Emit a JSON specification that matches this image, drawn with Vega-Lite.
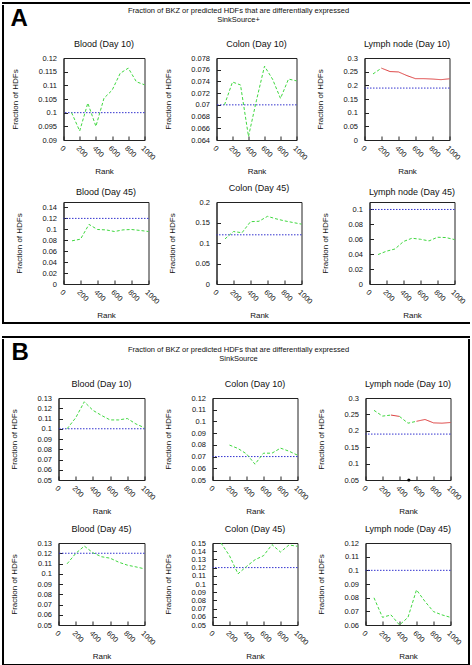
{
  "$schema": "https://vega.github.io/schema/vega-lite/v6.json",
  "background": "white",
  "padding": {"left": 2, "top": 2, "right": 0, "bottom": 0},
  "datasets": {
    "lines": [
      {"c":"A1","r":100,"v":0.1,"s":"n","g":1},{"c":"A1","r":200,"v":0.0933,"s":"n","g":1},{"c":"A1","r":300,"v":0.1035,"s":"n","g":1},{"c":"A1","r":400,"v":0.095,"s":"n","g":1},{"c":"A1","r":500,"v":0.1053,"s":"n","g":1},{"c":"A1","r":600,"v":0.1082,"s":"n","g":1},{"c":"A1","r":700,"v":0.1144,"s":"n","g":1},{"c":"A1","r":800,"v":0.1163,"s":"n","g":1},{"c":"A1","r":900,"v":0.1113,"s":"n","g":1},{"c":"A1","r":1000,"v":0.1102,"s":"n","g":1},
      {"c":"A2","r":100,"v":0.07,"s":"n","g":1},{"c":"A2","r":200,"v":0.0739,"s":"n","g":1},{"c":"A2","r":300,"v":0.0734,"s":"n","g":1},{"c":"A2","r":400,"v":0.0646,"s":"n","g":1},{"c":"A2","r":500,"v":0.0708,"s":"n","g":1},{"c":"A2","r":600,"v":0.0766,"s":"n","g":1},{"c":"A2","r":700,"v":0.0744,"s":"n","g":1},{"c":"A2","r":800,"v":0.0711,"s":"n","g":1},{"c":"A2","r":900,"v":0.0744,"s":"n","g":1},{"c":"A2","r":1000,"v":0.0741,"s":"n","g":1},
      {"c":"A3","r":100,"v":0.2417,"s":"n","g":1},{"c":"A3","r":200,"v":0.2628,"s":"n","g":1},{"c":"A3","r":200,"v":0.2628,"s":"y","g":2},{"c":"A3","r":300,"v":0.2504,"s":"y","g":2},{"c":"A3","r":400,"v":0.249,"s":"y","g":2},{"c":"A3","r":500,"v":0.2355,"s":"y","g":2},{"c":"A3","r":600,"v":0.2244,"s":"y","g":2},{"c":"A3","r":700,"v":0.2244,"s":"y","g":2},{"c":"A3","r":800,"v":0.223,"s":"y","g":2},{"c":"A3","r":900,"v":0.2207,"s":"y","g":2},{"c":"A3","r":1000,"v":0.224,"s":"y","g":2},
      {"c":"A4","r":100,"v":0.079,"s":"n","g":1},{"c":"A4","r":200,"v":0.082,"s":"n","g":1},{"c":"A4","r":300,"v":0.109,"s":"n","g":1},{"c":"A4","r":400,"v":0.0997,"s":"n","g":1},{"c":"A4","r":500,"v":0.099,"s":"n","g":1},{"c":"A4","r":600,"v":0.096,"s":"n","g":1},{"c":"A4","r":700,"v":0.099,"s":"n","g":1},{"c":"A4","r":800,"v":0.0997,"s":"n","g":1},{"c":"A4","r":900,"v":0.098,"s":"n","g":1},{"c":"A4","r":1000,"v":0.096,"s":"n","g":1},
      {"c":"A5","r":100,"v":0.11,"s":"n","g":1},{"c":"A5","r":200,"v":0.128,"s":"n","g":1},{"c":"A5","r":300,"v":0.125,"s":"n","g":1},{"c":"A5","r":400,"v":0.152,"s":"n","g":1},{"c":"A5","r":500,"v":0.153,"s":"n","g":1},{"c":"A5","r":600,"v":0.165,"s":"n","g":1},{"c":"A5","r":700,"v":0.159,"s":"n","g":1},{"c":"A5","r":800,"v":0.154,"s":"n","g":1},{"c":"A5","r":900,"v":0.15,"s":"n","g":1},{"c":"A5","r":1000,"v":0.146,"s":"n","g":1},
      {"c":"A6","r":100,"v":0.0395,"s":"n","g":1},{"c":"A6","r":200,"v":0.044,"s":"n","g":1},{"c":"A6","r":300,"v":0.047,"s":"n","g":1},{"c":"A6","r":400,"v":0.057,"s":"n","g":1},{"c":"A6","r":500,"v":0.0614,"s":"n","g":1},{"c":"A6","r":600,"v":0.06,"s":"n","g":1},{"c":"A6","r":700,"v":0.0578,"s":"n","g":1},{"c":"A6","r":800,"v":0.0627,"s":"n","g":1},{"c":"A6","r":900,"v":0.0623,"s":"n","g":1},{"c":"A6","r":1000,"v":0.0596,"s":"n","g":1},
      {"c":"B1","r":100,"v":0.1,"s":"n","g":1},{"c":"B1","r":200,"v":0.1107,"s":"n","g":1},{"c":"B1","r":300,"v":0.1263,"s":"n","g":1},{"c":"B1","r":400,"v":0.118,"s":"n","g":1},{"c":"B1","r":500,"v":0.113,"s":"n","g":1},{"c":"B1","r":600,"v":0.1086,"s":"n","g":1},{"c":"B1","r":700,"v":0.1086,"s":"n","g":1},{"c":"B1","r":800,"v":0.11,"s":"n","g":1},{"c":"B1","r":900,"v":0.1047,"s":"n","g":1},{"c":"B1","r":1000,"v":0.101,"s":"n","g":1},
      {"c":"B2","r":200,"v":0.0798,"s":"n","g":1},{"c":"B2","r":300,"v":0.0769,"s":"n","g":1},{"c":"B2","r":400,"v":0.0723,"s":"n","g":1},{"c":"B2","r":500,"v":0.0635,"s":"n","g":1},{"c":"B2","r":600,"v":0.0729,"s":"n","g":1},{"c":"B2","r":700,"v":0.0729,"s":"n","g":1},{"c":"B2","r":800,"v":0.0772,"s":"n","g":1},{"c":"B2","r":900,"v":0.0746,"s":"n","g":1},{"c":"B2","r":1000,"v":0.0712,"s":"n","g":1},
      {"c":"B3","r":100,"v":0.2624,"s":"n","g":1},{"c":"B3","r":200,"v":0.2448,"s":"n","g":1},{"c":"B3","r":300,"v":0.248,"s":"n","g":1},{"c":"B3","r":300,"v":0.248,"s":"y","g":2},{"c":"B3","r":400,"v":0.2438,"s":"y","g":2},{"c":"B3","r":400,"v":0.2438,"s":"n","g":3},{"c":"B3","r":500,"v":0.2232,"s":"n","g":3},{"c":"B3","r":600,"v":0.229,"s":"n","g":3},{"c":"B3","r":600,"v":0.229,"s":"y","g":4},{"c":"B3","r":700,"v":0.2345,"s":"y","g":4},{"c":"B3","r":800,"v":0.2242,"s":"y","g":4},{"c":"B3","r":900,"v":0.2232,"s":"y","g":4},{"c":"B3","r":1000,"v":0.2253,"s":"y","g":4},
      {"c":"B4","r":100,"v":0.1097,"s":"n","g":1},{"c":"B4","r":200,"v":0.1198,"s":"n","g":1},{"c":"B4","r":300,"v":0.127,"s":"n","g":1},{"c":"B4","r":400,"v":0.1205,"s":"n","g":1},{"c":"B4","r":500,"v":0.1166,"s":"n","g":1},{"c":"B4","r":600,"v":0.1152,"s":"n","g":1},{"c":"B4","r":700,"v":0.1113,"s":"n","g":1},{"c":"B4","r":800,"v":0.1084,"s":"n","g":1},{"c":"B4","r":900,"v":0.1067,"s":"n","g":1},{"c":"B4","r":1000,"v":0.1048,"s":"n","g":1},
      {"c":"B5","r":100,"v":0.15,"s":"n","g":1},{"c":"B5","r":200,"v":0.1345,"s":"n","g":1},{"c":"B5","r":300,"v":0.1124,"s":"n","g":1},{"c":"B5","r":400,"v":0.1214,"s":"n","g":1},{"c":"B5","r":500,"v":0.1296,"s":"n","g":1},{"c":"B5","r":600,"v":0.1345,"s":"n","g":1},{"c":"B5","r":700,"v":0.148,"s":"n","g":1},{"c":"B5","r":800,"v":0.139,"s":"n","g":1},{"c":"B5","r":900,"v":0.1476,"s":"n","g":1},{"c":"B5","r":1000,"v":0.146,"s":"n","g":1},
      {"c":"B6","r":100,"v":0.0799,"s":"n","g":1},{"c":"B6","r":200,"v":0.0656,"s":"n","g":1},{"c":"B6","r":300,"v":0.0674,"s":"n","g":1},{"c":"B6","r":400,"v":0.06,"s":"n","g":1},{"c":"B6","r":500,"v":0.0656,"s":"n","g":1},{"c":"B6","r":600,"v":0.0857,"s":"n","g":1},{"c":"B6","r":700,"v":0.0772,"s":"n","g":1},{"c":"B6","r":800,"v":0.0698,"s":"n","g":1},{"c":"B6","r":900,"v":0.0674,"s":"n","g":1},{"c":"B6","r":1000,"v":0.0656,"s":"n","g":1}
    ],
    "base": [
      {"c":"A1","v":0.1},{"c":"A2","v":0.07},{"c":"A3","v":0.19},{"c":"A4","v":0.12},{"c":"A5","v":0.12},{"c":"A6","v":0.1},
      {"c":"B1","v":0.1},{"c":"B2","v":0.07},{"c":"B3","v":0.19},{"c":"B4","v":0.12},{"c":"B5","v":0.12},{"c":"B6","v":0.1}
    ],
    "dots": [{"c":"B3","r":510,"v":0.05}]
  },
  "vconcat": [
    {
      "spacing": 0,
      "vconcat": [
        {"width": 466, "height": 0.01, "data": {"values": []}, "mark": "point", "view": {"stroke": "#000", "strokeWidth": 2}},
        {
          "spacing": 4.5,
          "hconcat": [
            {"width": 0.01, "height": 315, "data": {"values": []}, "mark": "point", "view": {"stroke": "#000", "strokeWidth": 2}},
            {
              "spacing": 7,
              "vconcat": [
                {"spacing": 62, "hconcat": [
                  {"width": 0.01, "height": 0.01, "data": {"values": []}, "mark": "point", "view": {"stroke": "transparent"},
                   "title": {"text": "A", "orient": "bottom", "baseline": "top", "anchor": "start", "fontSize": 24, "fontWeight": "bold", "offset": 1, "dx": -53, "color": "#000"}},
                  {"width": 0.01, "height": 0.01, "data": {"values": []}, "mark": "point", "view": {"stroke": "transparent"},
                   "title": {"text": ["Fraction of BKZ or predicted HDFs that are differentially expressed", "SinkSource+"], "orient": "bottom", "baseline": "top", "anchor": "middle", "fontSize": 7.5, "lineHeight": 9, "offset": 1}}
                ]},
                {"spacing": 7, "vconcat": [
                {"spacing": 6,
                 "hconcat": [
                  {"title": "Blood (Day 10)", "width": 81, "height": 82,
                   "encoding": {"y": {"field": "v", "type": "quantitative", "scale": {"domain": [0.09, 0.12], "nice": false, "zero": false}, "axis": {"values": [0.09, 0.095, 0.1, 0.105, 0.11, 0.115, 0.12], "format": "~g", "title": "Fraction of HDFs"}}},
                   "layer": [
                     {"data": {"name": "base"}, "transform": [{"filter": "datum.c === 'A1'"}], "mark": {"type": "rule", "color": "#3434cf", "strokeDash": [1.5, 1.5]}, "encoding": {}},
                     {"data": {"name": "lines"}, "transform": [{"filter": "datum.c === 'A1'"}], "mark": {"type": "line", "strokeWidth": 1},
                      "encoding": {"x": {"field": "r", "type": "quantitative", "scale": {"domain": [0, 1000], "nice": false}, "axis": {"values": [0, 200, 400, 600, 800, 1000], "format": "d", "title": "Rank"}},
                       "color": {"field": "s", "type": "nominal", "scale": {"domain": ["n", "y"], "range": ["#40d840", "#dd3b3b"]}, "legend": null},
                       "strokeDash": {"field": "s", "type": "nominal", "scale": {"domain": ["n", "y"], "range": [[3, 2], [1, 0]]}, "legend": null},
                       "detail": {"field": "g", "type": "nominal"}}}
                   ]},
                  {"title": "Colon (Day 10)", "width": 80, "height": 82,
                   "encoding": {"y": {"field": "v", "type": "quantitative", "scale": {"domain": [0.064, 0.078], "nice": false, "zero": false}, "axis": {"values": [0.064, 0.066, 0.068, 0.07, 0.072, 0.074, 0.076, 0.078], "format": "~g", "title": "Fraction of HDFs"}}},
                   "layer": [
                     {"data": {"name": "base"}, "transform": [{"filter": "datum.c === 'A2'"}], "mark": {"type": "rule", "color": "#3434cf", "strokeDash": [1.5, 1.5]}, "encoding": {}},
                     {"data": {"name": "lines"}, "transform": [{"filter": "datum.c === 'A2'"}], "mark": {"type": "line", "strokeWidth": 1},
                      "encoding": {"x": {"field": "r", "type": "quantitative", "scale": {"domain": [0, 1000], "nice": false}, "axis": {"values": [0, 200, 400, 600, 800, 1000], "format": "d", "title": "Rank"}},
                       "color": {"field": "s", "type": "nominal", "scale": {"domain": ["n", "y"], "range": ["#40d840", "#dd3b3b"]}, "legend": null},
                       "strokeDash": {"field": "s", "type": "nominal", "scale": {"domain": ["n", "y"], "range": [[3, 2], [1, 0]]}, "legend": null},
                       "detail": {"field": "g", "type": "nominal"}}}
                   ]},
                  {"title": "Lymph node (Day 10)", "width": 85, "height": 82,
                   "encoding": {"y": {"field": "v", "type": "quantitative", "scale": {"domain": [0, 0.3], "nice": false, "zero": false}, "axis": {"values": [0, 0.05, 0.1, 0.15, 0.2, 0.25, 0.3], "format": "~g", "title": "Fraction of HDFs"}}},
                   "layer": [
                     {"data": {"name": "base"}, "transform": [{"filter": "datum.c === 'A3'"}], "mark": {"type": "rule", "color": "#3434cf", "strokeDash": [1.5, 1.5]}, "encoding": {}},
                     {"data": {"name": "lines"}, "transform": [{"filter": "datum.c === 'A3'"}], "mark": {"type": "line", "strokeWidth": 1},
                      "encoding": {"x": {"field": "r", "type": "quantitative", "scale": {"domain": [0, 1000], "nice": false}, "axis": {"values": [0, 200, 400, 600, 800, 1000], "format": "d", "title": "Rank"}},
                       "color": {"field": "s", "type": "nominal", "scale": {"domain": ["n", "y"], "range": ["#40d840", "#dd3b3b"]}, "legend": null},
                       "strokeDash": {"field": "s", "type": "nominal", "scale": {"domain": ["n", "y"], "range": [[3, 2], [1, 0]]}, "legend": null},
                       "detail": {"field": "g", "type": "nominal"}}}
                   ]}
                ]},
                {"spacing": 6, "hconcat": [
                  {"title": "Blood (Day 45)", "width": 85, "height": 82,
                   "encoding": {"y": {"field": "v", "type": "quantitative", "scale": {"domain": [0, 0.15], "nice": false, "zero": false}, "axis": {"values": [0, 0.02, 0.04, 0.06, 0.08, 0.1, 0.12, 0.14], "format": "~g", "title": "Fraction of HDFs"}}},
                   "layer": [
                     {"data": {"name": "base"}, "transform": [{"filter": "datum.c === 'A4'"}], "mark": {"type": "rule", "color": "#3434cf", "strokeDash": [1.5, 1.5]}, "encoding": {}},
                     {"data": {"name": "lines"}, "transform": [{"filter": "datum.c === 'A4'"}], "mark": {"type": "line", "strokeWidth": 1},
                      "encoding": {"x": {"field": "r", "type": "quantitative", "scale": {"domain": [0, 1000], "nice": false}, "axis": {"values": [0, 200, 400, 600, 800, 1000], "format": "d", "title": "Rank"}},
                       "color": {"field": "s", "type": "nominal", "scale": {"domain": ["n", "y"], "range": ["#40d840", "#dd3b3b"]}, "legend": null},
                       "strokeDash": {"field": "s", "type": "nominal", "scale": {"domain": ["n", "y"], "range": [[3, 2], [1, 0]]}, "legend": null},
                       "detail": {"field": "g", "type": "nominal"}}}
                   ]},
                  {"title": "Colon (Day 45)", "width": 85, "height": 82,
                   "encoding": {"y": {"field": "v", "type": "quantitative", "scale": {"domain": [0, 0.2], "nice": false, "zero": false}, "axis": {"values": [0, 0.05, 0.1, 0.15, 0.2], "format": "~g", "title": "Fraction of HDFs"}}},
                   "layer": [
                     {"data": {"name": "base"}, "transform": [{"filter": "datum.c === 'A5'"}], "mark": {"type": "rule", "color": "#3434cf", "strokeDash": [1.5, 1.5]}, "encoding": {}},
                     {"data": {"name": "lines"}, "transform": [{"filter": "datum.c === 'A5'"}], "mark": {"type": "line", "strokeWidth": 1},
                      "encoding": {"x": {"field": "r", "type": "quantitative", "scale": {"domain": [0, 1000], "nice": false}, "axis": {"values": [0, 200, 400, 600, 800, 1000], "format": "d", "title": "Rank"}},
                       "color": {"field": "s", "type": "nominal", "scale": {"domain": ["n", "y"], "range": ["#40d840", "#dd3b3b"]}, "legend": null},
                       "strokeDash": {"field": "s", "type": "nominal", "scale": {"domain": ["n", "y"], "range": [[3, 2], [1, 0]]}, "legend": null},
                       "detail": {"field": "g", "type": "nominal"}}}
                   ]},
                  {"title": "Lymph node (Day 45)", "width": 85, "height": 82,
                   "encoding": {"y": {"field": "v", "type": "quantitative", "scale": {"domain": [0, 0.11], "nice": false, "zero": false}, "axis": {"values": [0, 0.02, 0.04, 0.06, 0.08, 0.1], "format": "~g", "title": "Fraction of HDFs"}}},
                   "layer": [
                     {"data": {"name": "base"}, "transform": [{"filter": "datum.c === 'A6'"}], "mark": {"type": "rule", "color": "#3434cf", "strokeDash": [1.5, 1.5]}, "encoding": {}},
                     {"data": {"name": "lines"}, "transform": [{"filter": "datum.c === 'A6'"}], "mark": {"type": "line", "strokeWidth": 1},
                      "encoding": {"x": {"field": "r", "type": "quantitative", "scale": {"domain": [0, 1000], "nice": false}, "axis": {"values": [0, 200, 400, 600, 800, 1000], "format": "d", "title": "Rank"}},
                       "color": {"field": "s", "type": "nominal", "scale": {"domain": ["n", "y"], "range": ["#40d840", "#dd3b3b"]}, "legend": null},
                       "strokeDash": {"field": "s", "type": "nominal", "scale": {"domain": ["n", "y"], "range": [[3, 2], [1, 0]]}, "legend": null},
                       "detail": {"field": "g", "type": "nominal"}}}
                   ]}
                ]}
                ]}
              ]
            },
            {"width": 0.01, "height": 315, "data": {"values": []}, "mark": "point", "view": {"stroke": "#000", "strokeWidth": 2}}
          ]
        },
        {"width": 466, "height": 0.01, "data": {"values": []}, "mark": "point", "view": {"stroke": "#000", "strokeWidth": 2}}
      ]
    },
    {
      "spacing": 0,
      "vconcat": [
        {"width": 466, "height": 0.01, "data": {"values": []}, "mark": "point", "view": {"stroke": "#000", "strokeWidth": 2}},
        {
          "spacing": 4.5,
          "hconcat": [
            {"width": 0.01, "height": 323, "data": {"values": []}, "mark": "point", "view": {"stroke": "#000", "strokeWidth": 2}},
            {
              "spacing": 13,
              "vconcat": [
                {"spacing": 67, "hconcat": [
                  {"width": 0.01, "height": 0.01, "data": {"values": []}, "mark": "point", "view": {"stroke": "transparent"},
                   "title": {"text": "B", "orient": "bottom", "baseline": "top", "anchor": "start", "fontSize": 24, "fontWeight": "bold", "offset": 1, "dx": -47, "color": "#000"}},
                  {"width": 0.01, "height": 0.01, "data": {"values": []}, "mark": "point", "view": {"stroke": "transparent"},
                   "title": {"text": ["Fraction of BKZ or predicted HDFs that are differentially expressed", "SinkSource"], "orient": "bottom", "baseline": "top", "anchor": "middle", "fontSize": 7.5, "lineHeight": 9, "offset": 6}}
                ]},
                {"spacing": 8, "vconcat": [
                {"spacing": 6,
                 "hconcat": [
                  {"title": "Blood (Day 10)", "width": 86, "height": 82,
                   "encoding": {"y": {"field": "v", "type": "quantitative", "scale": {"domain": [0.05, 0.13], "nice": false, "zero": false}, "axis": {"values": [0.05, 0.06, 0.07, 0.08, 0.09, 0.1, 0.11, 0.12, 0.13], "format": "~g", "title": "Fraction of HDFs"}}},
                   "layer": [
                     {"data": {"name": "base"}, "transform": [{"filter": "datum.c === 'B1'"}], "mark": {"type": "rule", "color": "#3434cf", "strokeDash": [1.5, 1.5]}, "encoding": {}},
                     {"data": {"name": "lines"}, "transform": [{"filter": "datum.c === 'B1'"}], "mark": {"type": "line", "strokeWidth": 1},
                      "encoding": {"x": {"field": "r", "type": "quantitative", "scale": {"domain": [0, 1000], "nice": false}, "axis": {"values": [0, 200, 400, 600, 800, 1000], "format": "d", "title": "Rank"}},
                       "color": {"field": "s", "type": "nominal", "scale": {"domain": ["n", "y"], "range": ["#40d840", "#dd3b3b"]}, "legend": null},
                       "strokeDash": {"field": "s", "type": "nominal", "scale": {"domain": ["n", "y"], "range": [[3, 2], [1, 0]]}, "legend": null},
                       "detail": {"field": "g", "type": "nominal"}}}
                   ]},
                  {"title": "Colon (Day 10)", "width": 85, "height": 82,
                   "encoding": {"y": {"field": "v", "type": "quantitative", "scale": {"domain": [0.05, 0.12], "nice": false, "zero": false}, "axis": {"values": [0.05, 0.06, 0.07, 0.08, 0.09, 0.1, 0.11, 0.12], "format": "~g", "title": "Fraction of HDFs"}}},
                   "layer": [
                     {"data": {"name": "base"}, "transform": [{"filter": "datum.c === 'B2'"}], "mark": {"type": "rule", "color": "#3434cf", "strokeDash": [1.5, 1.5]}, "encoding": {}},
                     {"data": {"name": "lines"}, "transform": [{"filter": "datum.c === 'B2'"}], "mark": {"type": "line", "strokeWidth": 1},
                      "encoding": {"x": {"field": "r", "type": "quantitative", "scale": {"domain": [0, 1000], "nice": false}, "axis": {"values": [0, 200, 400, 600, 800, 1000], "format": "d", "title": "Rank"}},
                       "color": {"field": "s", "type": "nominal", "scale": {"domain": ["n", "y"], "range": ["#40d840", "#dd3b3b"]}, "legend": null},
                       "strokeDash": {"field": "s", "type": "nominal", "scale": {"domain": ["n", "y"], "range": [[3, 2], [1, 0]]}, "legend": null},
                       "detail": {"field": "g", "type": "nominal"}}}
                   ]},
                  {"title": "Lymph node (Day 10)", "width": 85, "height": 82,
                   "encoding": {"y": {"field": "v", "type": "quantitative", "scale": {"domain": [0.05, 0.3], "nice": false, "zero": false}, "axis": {"values": [0.05, 0.1, 0.15, 0.2, 0.25, 0.3], "format": "~g", "title": "Fraction of HDFs"}}},
                   "layer": [
                     {"data": {"name": "base"}, "transform": [{"filter": "datum.c === 'B3'"}], "mark": {"type": "rule", "color": "#3434cf", "strokeDash": [1.5, 1.5]}, "encoding": {}},
                     {"data": {"name": "lines"}, "transform": [{"filter": "datum.c === 'B3'"}], "mark": {"type": "line", "strokeWidth": 1},
                      "encoding": {"x": {"field": "r", "type": "quantitative", "scale": {"domain": [0, 1000], "nice": false}, "axis": {"values": [0, 200, 400, 600, 800, 1000], "format": "d", "title": "Rank"}},
                       "color": {"field": "s", "type": "nominal", "scale": {"domain": ["n", "y"], "range": ["#40d840", "#dd3b3b"]}, "legend": null},
                       "strokeDash": {"field": "s", "type": "nominal", "scale": {"domain": ["n", "y"], "range": [[3, 2], [1, 0]]}, "legend": null},
                       "detail": {"field": "g", "type": "nominal"}}},
                     {"data": {"name": "dots"}, "mark": {"type": "point", "filled": true, "color": "#000", "size": 10, "opacity": 1},
                      "encoding": {"x": {"field": "r", "type": "quantitative", "scale": {"domain": [0, 1000], "nice": false}, "axis": {"values": [0, 200, 400, 600, 800, 1000], "format": "d", "title": "Rank"}}}}
                   ]}
                ]},
                {"spacing": 6, "hconcat": [
                  {"title": "Blood (Day 45)", "width": 86, "height": 82,
                   "encoding": {"y": {"field": "v", "type": "quantitative", "scale": {"domain": [0.05, 0.13], "nice": false, "zero": false}, "axis": {"values": [0.05, 0.06, 0.07, 0.08, 0.09, 0.1, 0.11, 0.12, 0.13], "format": "~g", "title": "Fraction of HDFs"}}},
                   "layer": [
                     {"data": {"name": "base"}, "transform": [{"filter": "datum.c === 'B4'"}], "mark": {"type": "rule", "color": "#3434cf", "strokeDash": [1.5, 1.5]}, "encoding": {}},
                     {"data": {"name": "lines"}, "transform": [{"filter": "datum.c === 'B4'"}], "mark": {"type": "line", "strokeWidth": 1},
                      "encoding": {"x": {"field": "r", "type": "quantitative", "scale": {"domain": [0, 1000], "nice": false}, "axis": {"values": [0, 200, 400, 600, 800, 1000], "format": "d", "title": "Rank"}},
                       "color": {"field": "s", "type": "nominal", "scale": {"domain": ["n", "y"], "range": ["#40d840", "#dd3b3b"]}, "legend": null},
                       "strokeDash": {"field": "s", "type": "nominal", "scale": {"domain": ["n", "y"], "range": [[3, 2], [1, 0]]}, "legend": null},
                       "detail": {"field": "g", "type": "nominal"}}}
                   ]},
                  {"title": "Colon (Day 45)", "width": 85, "height": 82,
                   "encoding": {"y": {"field": "v", "type": "quantitative", "scale": {"domain": [0.05, 0.15], "nice": false, "zero": false}, "axis": {"values": [0.05, 0.06, 0.07, 0.08, 0.09, 0.1, 0.11, 0.12, 0.13, 0.14, 0.15], "format": "~g", "title": "Fraction of HDFs"}}},
                   "layer": [
                     {"data": {"name": "base"}, "transform": [{"filter": "datum.c === 'B5'"}], "mark": {"type": "rule", "color": "#3434cf", "strokeDash": [1.5, 1.5]}, "encoding": {}},
                     {"data": {"name": "lines"}, "transform": [{"filter": "datum.c === 'B5'"}], "mark": {"type": "line", "strokeWidth": 1},
                      "encoding": {"x": {"field": "r", "type": "quantitative", "scale": {"domain": [0, 1000], "nice": false}, "axis": {"values": [0, 200, 400, 600, 800, 1000], "format": "d", "title": "Rank"}},
                       "color": {"field": "s", "type": "nominal", "scale": {"domain": ["n", "y"], "range": ["#40d840", "#dd3b3b"]}, "legend": null},
                       "strokeDash": {"field": "s", "type": "nominal", "scale": {"domain": ["n", "y"], "range": [[3, 2], [1, 0]]}, "legend": null},
                       "detail": {"field": "g", "type": "nominal"}}}
                   ]},
                  {"title": "Lymph node (Day 45)", "width": 85, "height": 82,
                   "encoding": {"y": {"field": "v", "type": "quantitative", "scale": {"domain": [0.06, 0.12], "nice": false, "zero": false}, "axis": {"values": [0.06, 0.07, 0.08, 0.09, 0.1, 0.11, 0.12], "format": "~g", "title": "Fraction of HDFs"}}},
                   "layer": [
                     {"data": {"name": "base"}, "transform": [{"filter": "datum.c === 'B6'"}], "mark": {"type": "rule", "color": "#3434cf", "strokeDash": [1.5, 1.5]}, "encoding": {}},
                     {"data": {"name": "lines"}, "transform": [{"filter": "datum.c === 'B6'"}], "mark": {"type": "line", "strokeWidth": 1},
                      "encoding": {"x": {"field": "r", "type": "quantitative", "scale": {"domain": [0, 1000], "nice": false}, "axis": {"values": [0, 200, 400, 600, 800, 1000], "format": "d", "title": "Rank"}},
                       "color": {"field": "s", "type": "nominal", "scale": {"domain": ["n", "y"], "range": ["#40d840", "#dd3b3b"]}, "legend": null},
                       "strokeDash": {"field": "s", "type": "nominal", "scale": {"domain": ["n", "y"], "range": [[3, 2], [1, 0]]}, "legend": null},
                       "detail": {"field": "g", "type": "nominal"}}}
                   ]}
                ]}
                ]}
              ]
            },
            {"width": 0.01, "height": 323, "data": {"values": []}, "mark": "point", "view": {"stroke": "#000", "strokeWidth": 2}}
          ]
        },
        {"width": 466, "height": 0.01, "data": {"values": []}, "mark": "point", "view": {"stroke": "#000", "strokeWidth": 2}}
      ]
    }
  ],
  "spacing": 11,
  "config": {
    "font": "Liberation Sans",
    "view": {"stroke": "#222", "strokeWidth": 1},
    "axis": {"grid": false, "domainColor": "#222", "tickColor": "#222", "tickSize": -4, "labelFontSize": 7.5, "labelColor": "#111", "titleFontSize": 8, "titleFontWeight": "normal", "titleColor": "#111", "domainWidth": 1, "tickWidth": 1},
    "axisY": {"labelPadding": 11, "titlePadding": 18},
    "axisX": {"labelAngle": 45, "labelPadding": 8, "titlePadding": 6},
    "title": {"fontSize": 9, "fontWeight": "normal", "offset": 5, "color": "#111"}
  }
}
